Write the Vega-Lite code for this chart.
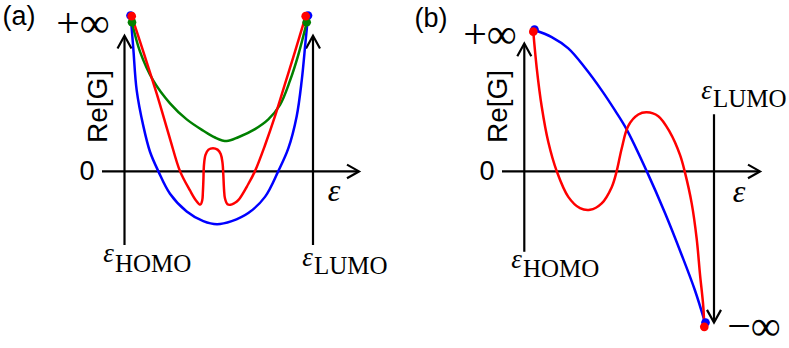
{
  "$schema": "https://vega.github.io/schema/vega-lite/v6.json",
  "width": 789,
  "height": 348,
  "autosize": {"type": "fit", "contains": "padding"},
  "padding": 0,
  "background": "white",
  "config": {"view": {"stroke": null}},
  "datasets": {
    "axes": [
      {"x": 124.5, "y": -76, "x2": 124.5, "y2": 139},
      {"x": 313, "y": -76, "x2": 313, "y2": 139},
      {"x": 102, "y": 0, "x2": 358, "y2": 0},
      {"x": 524.3, "y": -83, "x2": 524.3, "y2": 131},
      {"x": 502, "y": 0, "x2": 759, "y2": 0},
      {"x": 714, "y": 59, "x2": 714, "y2": -155}
    ],
    "heads": [
      {"id": "a1", "i": 0, "x": 117.5, "y": 127}, {"id": "a1", "i": 1, "x": 124.5, "y": 140}, {"id": "a1", "i": 2, "x": 131.5, "y": 127},
      {"id": "a2", "i": 0, "x": 306, "y": 127}, {"id": "a2", "i": 1, "x": 313, "y": 140}, {"id": "a2", "i": 2, "x": 320, "y": 127},
      {"id": "a3", "i": 0, "x": 347, "y": 7}, {"id": "a3", "i": 1, "x": 359, "y": 0}, {"id": "a3", "i": 2, "x": 347, "y": -7},
      {"id": "b1", "i": 0, "x": 517.3, "y": 119}, {"id": "b1", "i": 1, "x": 524.3, "y": 132}, {"id": "b1", "i": 2, "x": 531.3, "y": 119},
      {"id": "b2", "i": 0, "x": 748, "y": 7}, {"id": "b2", "i": 1, "x": 760, "y": 0}, {"id": "b2", "i": 2, "x": 748, "y": -7},
      {"id": "b3", "i": 0, "x": 707, "y": -143}, {"id": "b3", "i": 1, "x": 714, "y": -156}, {"id": "b3", "i": 2, "x": 721, "y": -143}
    ],
    "curves": [
      {"p": "a", "s": "blue", "i": 0, "x": 130.7, "y": 160.3},
      {"p": "a", "s": "blue", "i": 1, "x": 133.3, "y": 127},
      {"p": "a", "s": "blue", "i": 2, "x": 136.7, "y": 83.7},
      {"p": "a", "s": "blue", "i": 3, "x": 143.3, "y": 47},
      {"p": "a", "s": "blue", "i": 4, "x": 150, "y": 20.3},
      {"p": "a", "s": "blue", "i": 5, "x": 158.3, "y": 0.3},
      {"p": "a", "s": "blue", "i": 6, "x": 170, "y": -23},
      {"p": "a", "s": "blue", "i": 7, "x": 186.7, "y": -41.3},
      {"p": "a", "s": "blue", "i": 8, "x": 203.3, "y": -51.3},
      {"p": "a", "s": "blue", "i": 9, "x": 217, "y": -54.5},
      {"p": "a", "s": "blue", "i": 10, "x": 231.7, "y": -51.3},
      {"p": "a", "s": "blue", "i": 11, "x": 248.3, "y": -43},
      {"p": "a", "s": "blue", "i": 12, "x": 265, "y": -26.3},
      {"p": "a", "s": "blue", "i": 13, "x": 278.3, "y": 0.3},
      {"p": "a", "s": "blue", "i": 14, "x": 288.3, "y": 23.7},
      {"p": "a", "s": "blue", "i": 15, "x": 296.7, "y": 57},
      {"p": "a", "s": "blue", "i": 16, "x": 301.7, "y": 93.7},
      {"p": "a", "s": "blue", "i": 17, "x": 305.5, "y": 133.7},
      {"p": "a", "s": "blue", "i": 18, "x": 308, "y": 160.3},
      {"p": "a", "s": "green", "i": 0, "x": 132, "y": 153.7},
      {"p": "a", "s": "green", "i": 1, "x": 140, "y": 123.7},
      {"p": "a", "s": "green", "i": 2, "x": 153.3, "y": 93.7},
      {"p": "a", "s": "green", "i": 3, "x": 170, "y": 70.3},
      {"p": "a", "s": "green", "i": 4, "x": 186.7, "y": 53.7},
      {"p": "a", "s": "green", "i": 5, "x": 203.3, "y": 42},
      {"p": "a", "s": "green", "i": 6, "x": 215, "y": 35},
      {"p": "a", "s": "green", "i": 7, "x": 226.7, "y": 31.3},
      {"p": "a", "s": "green", "i": 8, "x": 238.3, "y": 35.3},
      {"p": "a", "s": "green", "i": 9, "x": 255, "y": 43.7},
      {"p": "a", "s": "green", "i": 10, "x": 268.3, "y": 53.7},
      {"p": "a", "s": "green", "i": 11, "x": 280, "y": 68.7},
      {"p": "a", "s": "green", "i": 12, "x": 290, "y": 93.7},
      {"p": "a", "s": "green", "i": 13, "x": 298.3, "y": 120.3},
      {"p": "a", "s": "green", "i": 14, "x": 306.7, "y": 153.7},
      {"p": "a", "s": "red", "i": 0, "x": 131.7, "y": 160.3},
      {"p": "a", "s": "red", "i": 1, "x": 143.3, "y": 123.7},
      {"p": "a", "s": "red", "i": 2, "x": 156.7, "y": 80.3},
      {"p": "a", "s": "red", "i": 3, "x": 170, "y": 33.7},
      {"p": "a", "s": "red", "i": 4, "x": 180, "y": 0.3},
      {"p": "a", "s": "red", "i": 5, "x": 190, "y": -19.7},
      {"p": "a", "s": "red", "i": 6, "x": 196, "y": -30},
      {"p": "a", "s": "red", "i": 7, "x": 200.3, "y": -34.3},
      {"p": "a", "s": "red", "i": 8, "x": 202.2, "y": -30},
      {"p": "a", "s": "red", "i": 9, "x": 202.9, "y": -21},
      {"p": "a", "s": "red", "i": 10, "x": 203.4, "y": -9},
      {"p": "a", "s": "red", "i": 11, "x": 204, "y": 7},
      {"p": "a", "s": "red", "i": 12, "x": 205.5, "y": 17},
      {"p": "a", "s": "red", "i": 13, "x": 208.5, "y": 22.5},
      {"p": "a", "s": "red", "i": 14, "x": 213, "y": 24},
      {"p": "a", "s": "red", "i": 15, "x": 217.5, "y": 22.5},
      {"p": "a", "s": "red", "i": 16, "x": 220.7, "y": 18},
      {"p": "a", "s": "red", "i": 17, "x": 222.5, "y": 9},
      {"p": "a", "s": "red", "i": 18, "x": 223.3, "y": -3},
      {"p": "a", "s": "red", "i": 19, "x": 224, "y": -18},
      {"p": "a", "s": "red", "i": 20, "x": 225, "y": -28},
      {"p": "a", "s": "red", "i": 21, "x": 227.5, "y": -34},
      {"p": "a", "s": "red", "i": 22, "x": 230.5, "y": -34.5},
      {"p": "a", "s": "red", "i": 23, "x": 234, "y": -33},
      {"p": "a", "s": "red", "i": 24, "x": 238.3, "y": -29.7},
      {"p": "a", "s": "red", "i": 25, "x": 248.3, "y": -13},
      {"p": "a", "s": "red", "i": 26, "x": 255, "y": 0.3},
      {"p": "a", "s": "red", "i": 27, "x": 265, "y": 27},
      {"p": "a", "s": "red", "i": 28, "x": 275, "y": 57},
      {"p": "a", "s": "red", "i": 29, "x": 285, "y": 90.3},
      {"p": "a", "s": "red", "i": 30, "x": 295, "y": 123.7},
      {"p": "a", "s": "red", "i": 31, "x": 305.7, "y": 160.3},
      {"p": "b", "s": "blue", "i": 0, "x": 534.3, "y": 146},
      {"p": "b", "s": "blue", "i": 1, "x": 551.7, "y": 138.7},
      {"p": "b", "s": "blue", "i": 2, "x": 568.3, "y": 127},
      {"p": "b", "s": "blue", "i": 3, "x": 585, "y": 107},
      {"p": "b", "s": "blue", "i": 4, "x": 601.7, "y": 83.7},
      {"p": "b", "s": "blue", "i": 5, "x": 615, "y": 63},
      {"p": "b", "s": "blue", "i": 6, "x": 626.5, "y": 43.7},
      {"p": "b", "s": "blue", "i": 7, "x": 646.7, "y": 0.3},
      {"p": "b", "s": "blue", "i": 8, "x": 665, "y": -43},
      {"p": "b", "s": "blue", "i": 9, "x": 681.7, "y": -86.3},
      {"p": "b", "s": "blue", "i": 10, "x": 695, "y": -123},
      {"p": "b", "s": "blue", "i": 11, "x": 705, "y": -156},
      {"p": "b", "s": "red", "i": 0, "x": 533.3, "y": 144},
      {"p": "b", "s": "red", "i": 1, "x": 536.7, "y": 107},
      {"p": "b", "s": "red", "i": 2, "x": 541.7, "y": 67},
      {"p": "b", "s": "red", "i": 3, "x": 548.3, "y": 30.3},
      {"p": "b", "s": "red", "i": 4, "x": 556.7, "y": 0.3},
      {"p": "b", "s": "red", "i": 5, "x": 568.3, "y": -26.3},
      {"p": "b", "s": "red", "i": 6, "x": 580, "y": -38},
      {"p": "b", "s": "red", "i": 7, "x": 590, "y": -39.7},
      {"p": "b", "s": "red", "i": 8, "x": 601.7, "y": -33},
      {"p": "b", "s": "red", "i": 9, "x": 611.7, "y": -16.3},
      {"p": "b", "s": "red", "i": 10, "x": 616.7, "y": 0.3},
      {"p": "b", "s": "red", "i": 11, "x": 621.7, "y": 23.7},
      {"p": "b", "s": "red", "i": 12, "x": 628.3, "y": 47},
      {"p": "b", "s": "red", "i": 13, "x": 638.3, "y": 58.7},
      {"p": "b", "s": "red", "i": 14, "x": 646.7, "y": 61},
      {"p": "b", "s": "red", "i": 15, "x": 658.3, "y": 57},
      {"p": "b", "s": "red", "i": 16, "x": 670, "y": 40.3},
      {"p": "b", "s": "red", "i": 17, "x": 680, "y": 17},
      {"p": "b", "s": "red", "i": 18, "x": 685, "y": -1.3},
      {"p": "b", "s": "red", "i": 19, "x": 691.7, "y": -33},
      {"p": "b", "s": "red", "i": 20, "x": 696.7, "y": -69.7},
      {"p": "b", "s": "red", "i": 21, "x": 700, "y": -106.3},
      {"p": "b", "s": "red", "i": 22, "x": 703.3, "y": -139.7},
      {"p": "b", "s": "red", "i": 23, "x": 704.3, "y": -160.5}
    ],
    "dots": [
      {"s": "blue", "x": 130.5, "y": 161}, {"s": "blue", "x": 308, "y": 161},
      {"s": "blue", "x": 534.5, "y": 146.5}, {"s": "blue", "x": 705.5, "y": -156},
      {"s": "green", "x": 132, "y": 154}, {"s": "green", "x": 306.7, "y": 154},
      {"s": "red", "x": 131.7, "y": 160.3}, {"s": "red", "x": 305.7, "y": 160.3},
      {"s": "red", "x": 533.3, "y": 144.3}, {"s": "red", "x": 704.3, "y": -160.5}
    ],
    "sans": [
      {"t": "(a)", "x": 19, "y": 159.5}, {"t": "(b)", "x": 431, "y": 157},
      {"t": "0", "x": 87, "y": -1}, {"t": "0", "x": 487, "y": -1}
    ],
    "ylabel": [{"t": "Re[G]", "x": 99, "y": 67}, {"t": "Re[G]", "x": 499, "y": 67}],
    "inf": [{"t": "+∞", "x": 83, "y": 152}, {"t": "+∞", "x": 490, "y": 141}, {"t": "−∞", "x": 754, "y": -161}],
    "epsAxis": [{"t": "ε", "x": 334, "y": -20}, {"t": "ε", "x": 739, "y": -21}],
    "epsSub": [{"t": "ε", "x": 114, "y": -94}, {"t": "ε", "x": 313, "y": -98}, {"t": "ε", "x": 522, "y": -100}, {"t": "ε", "x": 712, "y": 75}],
    "sub": [{"t": "HOMO", "x": 115, "y": -104}, {"t": "LUMO", "x": 314, "y": -106}, {"t": "HOMO", "x": 523, "y": -109}, {"t": "LUMO", "x": 713, "y": 66}]
  },
  "encoding": {
    "x": {"field": "x", "type": "quantitative", "scale": {"domain": [0, 789], "nice": false, "zero": false}, "axis": null},
    "y": {"field": "y", "type": "quantitative", "scale": {"domain": [-171, 177], "nice": false, "zero": false}, "axis": null}
  },
  "layer": [
    {
      "data": {"name": "axes"},
      "mark": {"type": "rule", "color": "black", "strokeWidth": 2.2},
      "encoding": {"x2": {"field": "x2"}, "y2": {"field": "y2"}}
    },
    {
      "data": {"name": "heads"},
      "mark": {"type": "line", "color": "black", "strokeWidth": 2.2, "strokeJoin": "miter"},
      "encoding": {"detail": {"field": "id"}, "order": {"field": "i", "type": "quantitative"}}
    },
    {
      "data": {"name": "curves"},
      "mark": {"type": "line", "strokeWidth": 2.5, "interpolate": "catmull-rom"},
      "encoding": {
        "color": {"field": "s", "type": "nominal", "scale": {"domain": ["blue", "red", "green"], "range": ["#0000ff", "#ff0000", "#008000"]}, "legend": null},
        "detail": {"field": "p"},
        "order": {"field": "i", "type": "quantitative"}
      }
    },
    {
      "data": {"name": "dots"},
      "mark": {"type": "point", "filled": true, "opacity": 1, "size": 75},
      "encoding": {
        "color": {"field": "s", "type": "nominal", "scale": {"domain": ["blue", "red", "green"], "range": ["#0000ff", "#ff0000", "#008000"]}, "legend": null}
      }
    },
    {
      "data": {"name": "sans"},
      "mark": {"type": "text", "font": "Liberation Sans", "fontSize": 27, "align": "center", "baseline": "middle", "color": "black"},
      "encoding": {"text": {"field": "t"}}
    },
    {
      "data": {"name": "ylabel"},
      "mark": {"type": "text", "font": "Liberation Sans", "fontSize": 28, "align": "center", "baseline": "middle", "angle": 270, "color": "black"},
      "encoding": {"text": {"field": "t"}}
    },
    {
      "data": {"name": "inf"},
      "mark": {"type": "text", "font": "Liberation Serif", "fontSize": 42, "align": "center", "baseline": "middle", "color": "black"},
      "encoding": {"text": {"field": "t"}}
    },
    {
      "data": {"name": "epsAxis"},
      "mark": {"type": "text", "font": "Liberation Serif", "fontStyle": "italic", "fontSize": 32, "align": "center", "baseline": "middle", "color": "black"},
      "encoding": {"text": {"field": "t"}}
    },
    {
      "data": {"name": "epsSub"},
      "mark": {"type": "text", "font": "Liberation Serif", "fontStyle": "italic", "fontSize": 27, "align": "right", "baseline": "alphabetic", "color": "black"},
      "encoding": {"text": {"field": "t"}}
    },
    {
      "data": {"name": "sub"},
      "mark": {"type": "text", "font": "Liberation Serif", "fontSize": 25, "align": "left", "baseline": "alphabetic", "color": "black"},
      "encoding": {"text": {"field": "t"}}
    }
  ]
}
